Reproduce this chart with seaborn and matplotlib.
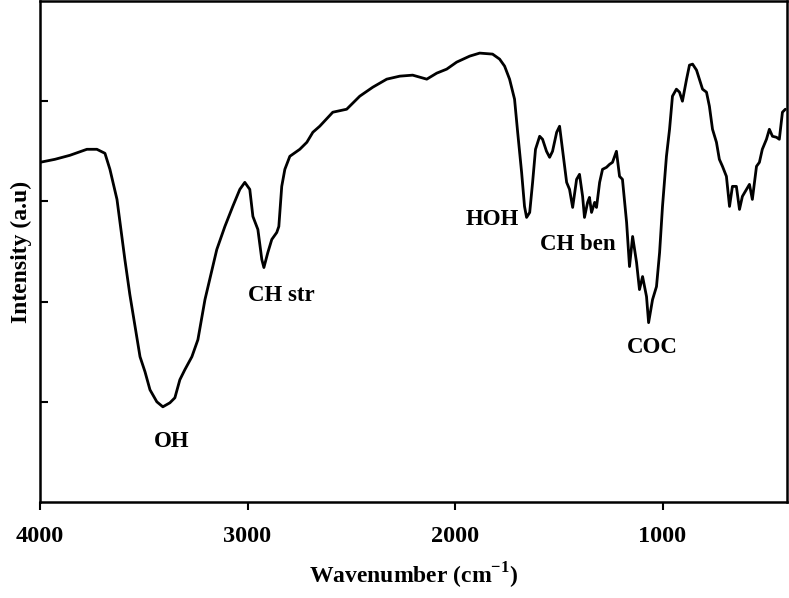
import matplotlib
matplotlib.use("Agg")
import matplotlib.pyplot as plt
import seaborn as sns
import pandas as pd

wavenumber = [4000, 3928, 3856, 3774, 3726, 3687, 3663, 3629, 3591, 3567,
              3518, 3494, 3470, 3437, 3408, 3374, 3350, 3326, 3302, 3268,
              3239, 3205, 3148, 3109, 3071, 3037, 3013, 2989, 2974, 2950,
              2931, 2921, 2902, 2883, 2859, 2849, 2835, 2820, 2796, 2748,
              2714, 2685, 2652, 2589, 2522, 2459, 2396, 2329, 2266, 2204,
              2136, 2088, 2040, 1992, 1929, 1881, 1819, 1785, 1761, 1737,
              1713, 1698, 1679, 1665, 1655, 1640, 1626, 1612, 1592, 1578,
              1559, 1544, 1530, 1510, 1496, 1482, 1462, 1448, 1433, 1414,
              1400, 1385, 1376, 1361, 1352, 1342, 1327, 1318, 1303, 1289,
              1270, 1255, 1241, 1222, 1207, 1193, 1173, 1159, 1144, 1125,
              1111, 1096, 1077, 1067, 1048, 1029, 1014, 1000, 981, 966,
              952, 933, 918, 904, 884, 870, 855, 836, 807, 788,
              774, 759, 740, 726, 711, 692, 677, 663, 644, 629,
              615, 595, 581, 567, 547, 533, 519, 499, 485, 470,
              451, 437, 422, 408]
intensity = [3.39, 3.42, 3.46, 3.52, 3.52, 3.48, 3.32, 3.02, 2.42, 2.07,
             1.45, 1.30, 1.12, 1.00, 0.95, 0.99, 1.04, 1.22, 1.32, 1.45,
             1.62, 2.02, 2.52, 2.75, 2.95, 3.12, 3.19, 3.12, 2.85, 2.72,
             2.42, 2.34, 2.49, 2.62, 2.69, 2.75, 3.15, 3.32, 3.45, 3.52,
             3.59, 3.69, 3.75, 3.89, 3.92, 4.05, 4.14, 4.22, 4.25, 4.26,
             4.22, 4.28, 4.32, 4.39, 4.45, 4.48, 4.47, 4.42, 4.35, 4.22,
             4.02, 3.69, 3.29, 2.95, 2.84, 2.89, 3.19, 3.52, 3.65, 3.62,
             3.50, 3.44, 3.50, 3.69, 3.75, 3.52, 3.19, 3.12, 2.94, 3.22,
             3.27, 3.05, 2.84, 2.99, 3.04, 2.89, 2.99, 2.94, 3.19, 3.32,
             3.34, 3.37, 3.39, 3.50, 3.25, 3.22, 2.79, 2.35, 2.65, 2.39,
             2.12, 2.25, 2.05, 1.79, 2.02, 2.15, 2.49, 2.95, 3.45, 3.72,
             4.05, 4.12, 4.09, 4.00, 4.22, 4.36, 4.37, 4.31, 4.12, 4.09,
             3.95, 3.72, 3.59, 3.42, 3.35, 3.25, 2.95, 3.15, 3.15, 2.92,
             3.05, 3.12, 3.17, 3.02, 3.35, 3.39, 3.52, 3.62, 3.72, 3.65,
             3.64, 3.62, 3.89, 3.92]

band_labels = ["OH", "CH str", "HOH", "CH ben", "COC"]
band_x = [3364, 2835, 1819, 1409, 1048]
band_y = [0.60, 2.06, 2.82, 2.57, 1.54]

x_ticks = [4000, 3000, 2000, 1000]
y_ticks = [1, 2, 3, 4]

df = pd.DataFrame({"Wavenumber": wavenumber, "Intensity": intensity})

sns.set_theme(style="ticks")
plt.rcParams["font.family"] = ["Liberation Serif", "DejaVu Serif"]
plt.rcParams["font.weight"] = "bold"
plt.rcParams["text.color"] = "black"
plt.rcParams["axes.labelcolor"] = "black"
plt.rcParams["xtick.color"] = "black"
plt.rcParams["ytick.color"] = "black"
plt.rcParams["mathtext.fontset"] = "custom"
plt.rcParams["mathtext.rm"] = "Liberation Serif:bold"
plt.rcParams["mathtext.bf"] = "Liberation Serif:bold"

fig = plt.figure(figsize=(7.89, 5.98), dpi=100)
ax = fig.add_axes([40 / 789, 1 - 502 / 598, 747 / 789, 501 / 598])

sns.lineplot(data=df, x="Wavenumber", y="Intensity", ax=ax, color="black",
             linewidth=2.0, estimator=None, sort=False)

ax.set_xlim(4000, 400)
ax.set_ylim(0, 5)
ax.set_xticks(x_ticks)
ax.set_xticklabels([str(t) for t in x_ticks], fontsize=17.5, fontweight="bold")
ax.set_yticks(y_ticks)
ax.set_yticklabels([])
ax.tick_params(axis="x", direction="out", length=6, width=1.5, pad=11, colors="black")
ax.tick_params(axis="y", direction="in", length=6, width=1.5, colors="black")

for s in ax.spines.values():
    s.set_visible(True)
    s.set_linewidth(1.8)
    s.set_color("black")

ax.set_xlabel("Wavenumber (cm$^{\\mathbf{-1}}$)", fontsize=17, fontweight="bold", labelpad=10)
ax.set_ylabel("Intensity (a.u)", fontsize=17, fontweight="bold", labelpad=2)

for lab, bx, by in zip(band_labels, band_x, band_y):
    ax.text(bx, by, lab, ha="center", va="center", fontsize=16.5, fontweight="bold",
            color="black")

fig.savefig("out.png", dpi=100)
